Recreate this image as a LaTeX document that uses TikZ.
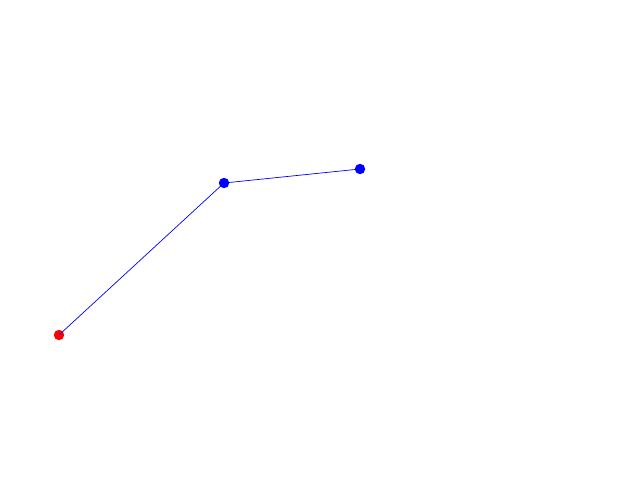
\documentclass[tikz,border=0pt]{standalone}
\usepackage{tikz}

\begin{document}
\begin{tikzpicture}[dot/.style={circle, inner sep=0pt, minimum size=0.26cm}]
\useasboundingbox (0,0) rectangle (16,12);

\node[dot, fill=red] (start) at (1.475,3.625) {};
\node[dot, fill=blue] (mid) at (5.6,7.425) {};
\node[dot, fill=blue] (end) at (9.0,7.775) {};

\draw[blue, line width=0.5pt] (start.center) -- (mid.center) -- (end.center);

\end{tikzpicture}
\end{document}
